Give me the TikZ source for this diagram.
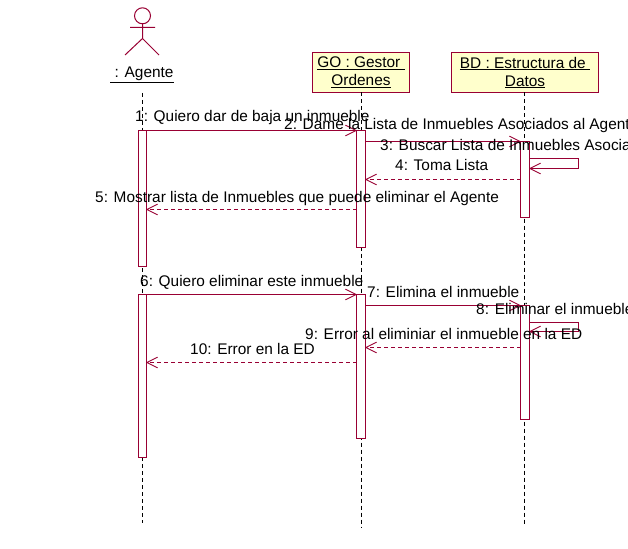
\documentclass[tikz,border=0pt]{standalone}
\usepackage{fontspec}
\setmainfont{Liberation Sans}
\usetikzlibrary{arrows.meta}
\definecolor{umlline}{HTML}{990033}
\definecolor{umlfill}{HTML}{FFFFCC}
\tikzset{
  x=1pt,y=-1pt,
  uml/.style={draw=umlline,line width=1pt},
  objbox/.style={uml,fill=umlfill,minimum height=40pt,inner sep=0pt,outer sep=0pt,align=center,font=\fontsize{15.4}{18}\selectfont},
  lifeline/.style={draw=black,line width=1pt,dash pattern=on 4pt off 3pt},
  activation/.style={uml,fill=white,minimum width=9pt,inner sep=0pt,outer sep=0pt,anchor=north},
  msg/.style={uml,-{Straight Barb[length=10.5pt,width=10.5pt,line width=0.9pt,round=false]}},
  retmsg/.style={msg,dash pattern=on 4pt off 3pt},
  lbl/.style={anchor=base west,inner sep=0pt,font=\fontsize{15.4}{17}\selectfont},
}
\begin{document}
\begin{tikzpicture}
\useasboundingbox (0,0) rectangle (628,548);
\clip (0,0) rectangle (628,548);
\fill[white] (0,0) rectangle (628,548);
% actor
\node[circle,uml,minimum size=16pt,inner sep=0pt,outer sep=0pt] (head) at (142.5,15.8) {};
\coordinate (hip) at (142.5,38.5);
\coordinate (handL) at (130,27.5);
\coordinate (handR) at (155,27.5);
\coordinate (footL) at (125,55);
\coordinate (footR) at (159,55);
\draw[uml] (head.south) -- (hip) (handL) -- (handR) (footL) -- (hip) -- (footR);
\node[anchor=base,inner sep=0pt,font=\fontsize{15.4}{17}\selectfont] (agente) at (142,77.5) {\underline{\ : Agente}};
% objects
\node[objbox,minimum width=97pt] (go) at (361,72.5) {\underline{GO : Gestor\ }\\\underline{Ordenes}};
\node[objbox,minimum width=147pt] (bd) at (525,72.5) {\underline{BD : Estructura de\ }\\\underline{Datos}};
% lifeline ends
\coordinate (agTop) at (142.5,93);
\coordinate (agEnd) at (142.5,523);
\coordinate (goTop) at (361.5,92.5);
\coordinate (goEnd) at (361.5,527);
\coordinate (bdTop) at (524.5,92.5);
\coordinate (bdEnd) at (524.5,526);
\draw[lifeline] (agTop) -- (agEnd);
\draw[lifeline] (goTop) -- (goEnd);
\draw[lifeline] (bdTop) -- (bdEnd);
% activations
\node[activation,minimum width=8pt,minimum height=136pt] (a1) at (142.5,130.5) {};
\node[activation,minimum width=8pt,minimum height=163pt] (a2) at (142.5,294.5) {};
\node[activation,minimum height=117pt] (g1) at (361,130.5) {};
\node[activation,minimum height=144pt] (g2) at (361,294.5) {};
\node[activation,minimum height=76pt] (b1) at (525,141.5) {};
\node[activation,minimum height=114pt] (b2) at (525,305.5) {};
% message rows
\coordinate (m1) at (0,130.5);
\coordinate (m3) at (0,141.5);
\coordinate (m4a) at (578.5,158.5);
\coordinate (m4b) at (578.5,168.5);
\coordinate (m4r) at (0,179.5);
\coordinate (m5) at (0,209.5);
\coordinate (m6) at (0,294.5);
\coordinate (m7) at (0,305.5);
\coordinate (m8a) at (578.5,322.5);
\coordinate (m8b) at (578.5,331.5);
\coordinate (m9) at (0,347.5);
\coordinate (m10) at (0,362.5);
\draw[msg] (a1.east |- m1) -- (g1.west |- m1);
\draw[msg] (g1.east |- m3) -- (b1.west |- m3);
\draw[msg] (b1.east |- m4a) -- (m4a) -- (m4b) -- (b1.east |- m4b);
\draw[retmsg] (b1.west |- m4r) -- (g1.east |- m4r);
\draw[retmsg] (g1.west |- m5) -- (a1.east |- m5);
\draw[msg] (a2.east |- m6) -- (g2.west |- m6);
\draw[msg] (g2.east |- m7) -- (b2.west |- m7);
\draw[msg] (b2.east |- m8a) -- (m8a) -- (m8b) -- (b2.east |- m8b);
\draw[retmsg] (b2.west |- m9) -- (g2.east |- m9);
\draw[retmsg] (g2.west |- m10) -- (a2.east |- m10);
% labels
\node[lbl] (t1) at (135,122) {1: Quiero dar de baja un inmueble};
\node[lbl] (t2) at (284,130) {2: Dame la Lista de Inmuebles Asociados al Agente};
\node[lbl] (t3) at (380,150) {3: Buscar Lista de Inmuebles Asociados};
\node[lbl] (t4) at (395,170) {4: Toma Lista};
\node[lbl] (t5) at (95,202) {5: Mostrar lista de Inmuebles que puede eliminar el Agente};
\node[lbl] (t6) at (140,286) {6: Quiero eliminar este inmueble};
\node[lbl] (t7) at (367,297) {7: Elimina el inmueble};
\node[lbl] (t8) at (476,314) {8: Eliminar el inmueble};
\node[lbl] (t9) at (305,339) {9: Error al eliminiar el inmueble en la ED};
\node[lbl] (t10) at (190,354) {10: Error en la ED};
\end{tikzpicture}
\end{document}
